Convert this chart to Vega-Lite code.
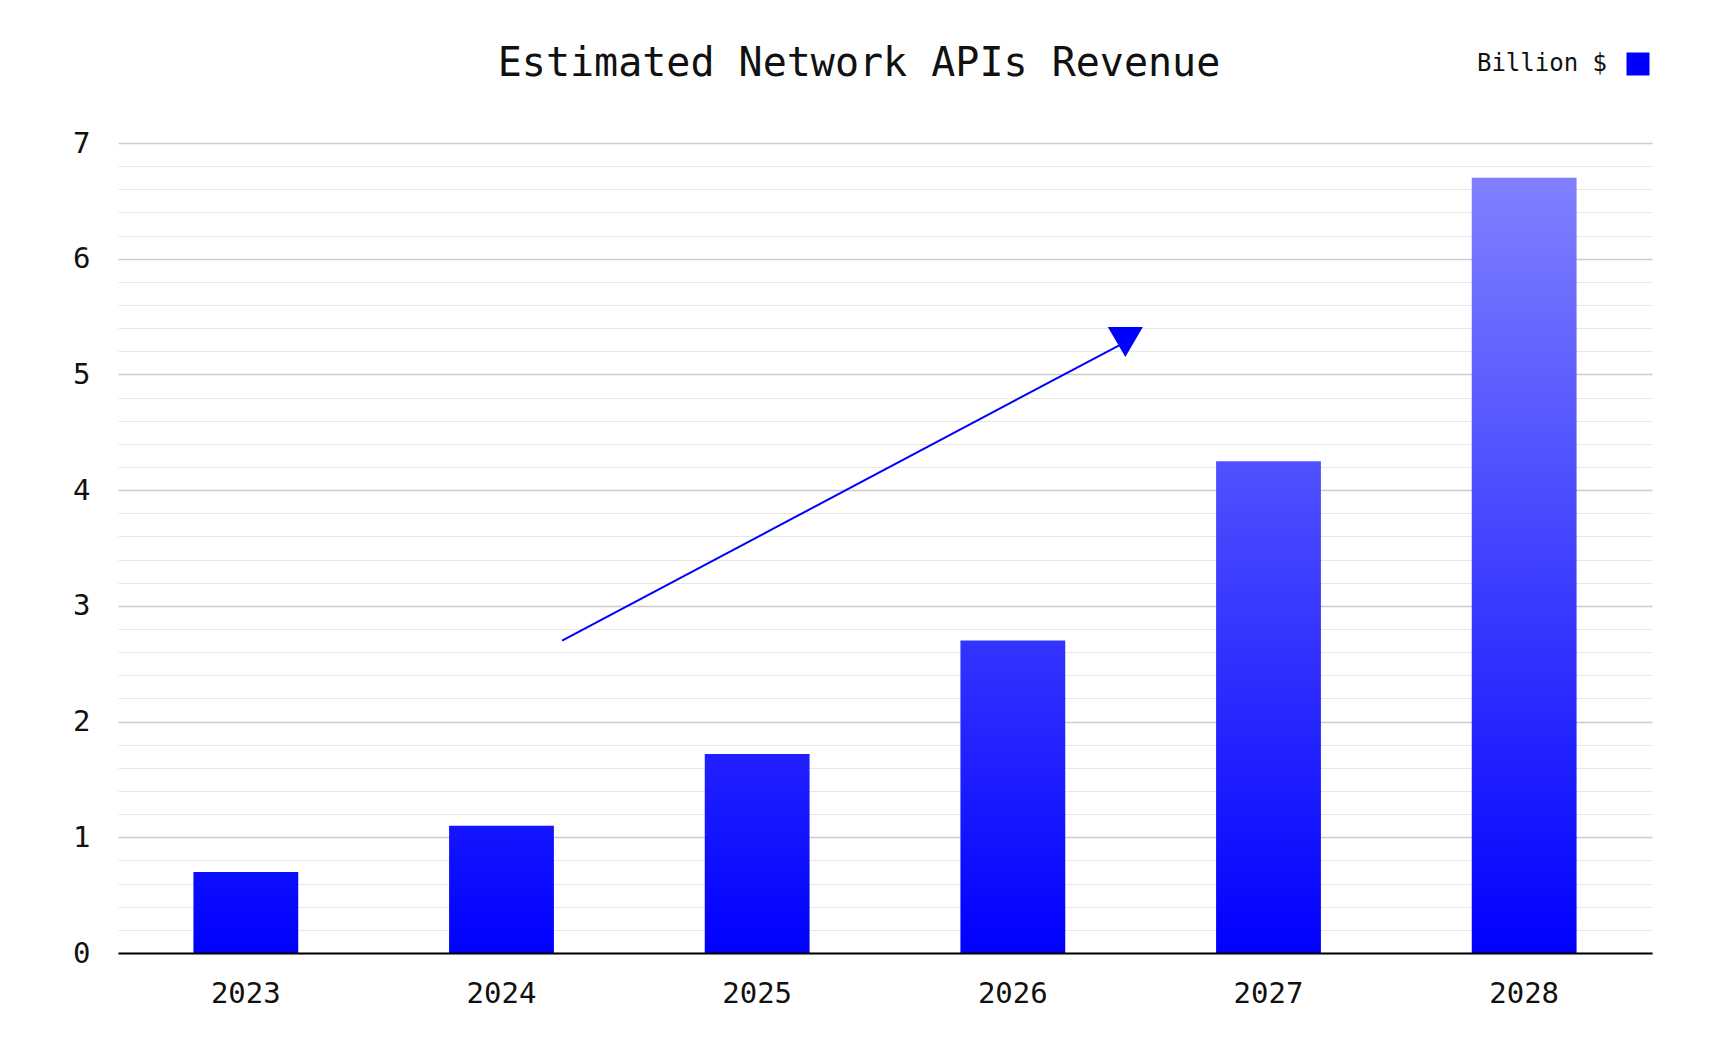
{
  "$schema": "https://vega.github.io/schema/vega-lite/v6.json",
  "width": 1534,
  "height": 810,
  "autosize": {"type": "none"},
  "padding": {"left": 118, "top": 143, "right": 63, "bottom": 91},
  "background": "white",
  "config": {"view": {"stroke": null}, "font": "DejaVu Sans Mono"},
  "title": {
    "text": "Estimated Network APIs Revenue",
    "font": "DejaVu Sans Mono",
    "fontSize": 40,
    "fontWeight": "normal",
    "color": "#111111",
    "anchor": "middle",
    "frame": "group",
    "baseline": "alphabetic",
    "dx": -26,
    "offset": -64
  },
  "datasets": {
    "revenue": [
      {"year": "2023", "value": 0.7},
      {"year": "2024", "value": 1.1},
      {"year": "2025", "value": 1.72},
      {"year": "2026", "value": 2.7},
      {"year": "2027", "value": 4.25},
      {"year": "2028", "value": 6.7}
    ],
    "trend": [
      {"px": 1.737, "py": 2.7},
      {"px": 3.94, "py": 5.28}
    ],
    "head": [
      {"px": 3.94, "py": 5.28, "series": "Billion $"}
    ]
  },
  "layer": [
    {
      "data": {"name": "revenue"},
      "encoding": {
        "x": {
          "field": "year",
          "type": "ordinal",
          "scale": {"domain": ["2023", "2024", "2025", "2026", "2027", "2028"], "paddingInner": 0.59, "paddingOuter": 0.295},
          "axis": {
            "title": null,
            "domain": true,
            "domainColor": "#000000",
            "domainWidth": 2,
            "ticks": false,
            "grid": false,
            "labelAngle": 0,
            "labelFont": "DejaVu Sans Mono",
            "labelFontSize": 29,
            "labelColor": "#111111",
            "labelPadding": 26,
            "zindex": 1
          }
        },
        "y": {
          "field": "value",
          "type": "quantitative",
          "scale": {"domain": [0, 7], "nice": false},
          "axis": {
            "orient": "left",
            "title": null,
            "values": [0, 1, 2, 3, 4, 5, 6, 7],
            "grid": true,
            "gridColor": "#cccccc",
            "gridWidth": 1.5,
            "domain": false,
            "ticks": false,
            "labelFont": "DejaVu Sans Mono",
            "labelFontSize": 29,
            "labelColor": "#111111",
            "labelPadding": 28
          }
        }
      },
      "layer": [
        {
          "transform": [{"filter": {"field": "year", "equal": "2023"}}],
          "mark": {"type": "bar", "color": {"gradient": "linear", "x1": 0, "y1": 1, "x2": 0, "y2": 0, "stops": [{"offset": 0, "color": "#0000ff"}, {"offset": 1, "color": "#0d0dff"}]}}
        },
        {
          "transform": [{"filter": {"field": "year", "equal": "2024"}}],
          "mark": {"type": "bar", "color": {"gradient": "linear", "x1": 0, "y1": 1, "x2": 0, "y2": 0, "stops": [{"offset": 0, "color": "#0000ff"}, {"offset": 1, "color": "#1515ff"}]}}
        },
        {
          "transform": [{"filter": {"field": "year", "equal": "2025"}}],
          "mark": {"type": "bar", "color": {"gradient": "linear", "x1": 0, "y1": 1, "x2": 0, "y2": 0, "stops": [{"offset": 0, "color": "#0000ff"}, {"offset": 1, "color": "#2121ff"}]}}
        },
        {
          "transform": [{"filter": {"field": "year", "equal": "2026"}}],
          "mark": {"type": "bar", "color": {"gradient": "linear", "x1": 0, "y1": 1, "x2": 0, "y2": 0, "stops": [{"offset": 0, "color": "#0000ff"}, {"offset": 1, "color": "#3434ff"}]}}
        },
        {
          "transform": [{"filter": {"field": "year", "equal": "2027"}}],
          "mark": {"type": "bar", "color": {"gradient": "linear", "x1": 0, "y1": 1, "x2": 0, "y2": 0, "stops": [{"offset": 0, "color": "#0000ff"}, {"offset": 1, "color": "#5151ff"}]}}
        },
        {
          "transform": [{"filter": {"field": "year", "equal": "2028"}}],
          "mark": {"type": "bar", "color": {"gradient": "linear", "x1": 0, "y1": 1, "x2": 0, "y2": 0, "stops": [{"offset": 0, "color": "#0000ff"}, {"offset": 1, "color": "#8080ff"}]}}
        }
      ]
    },
    {
      "data": {"name": "trend"},
      "mark": {"type": "line", "color": "#0000ff", "strokeWidth": 2},
      "encoding": {
        "x": {"field": "px", "type": "quantitative", "scale": {"domain": [0, 6], "nice": false, "zero": false}, "axis": null},
        "y": {
          "field": "py",
          "type": "quantitative",
          "scale": {"domain": [0, 7], "nice": false},
          "axis": {
            "orient": "left",
            "title": null,
            "values": [0.2, 0.4, 0.6, 0.8, 1.2, 1.4, 1.6, 1.8, 2.2, 2.4, 2.6, 2.8, 3.2, 3.4, 3.6, 3.8, 4.2, 4.4, 4.6, 4.8, 5.2, 5.4, 5.6, 5.8, 6.2, 6.4, 6.6, 6.8],
            "grid": true,
            "gridColor": "#e6e6e6",
            "gridWidth": 1,
            "labels": false,
            "ticks": false,
            "domain": false
          }
        }
      }
    },
    {
      "data": {"name": "head"},
      "mark": {"type": "point", "shape": "M-1,-0.86L1,-0.86L0,0.86Z", "size": 1225, "filled": true, "opacity": 1, "strokeWidth": 0},
      "encoding": {
        "x": {"field": "px", "type": "quantitative", "scale": {"domain": [0, 6], "nice": false, "zero": false}, "axis": null},
        "y": {"field": "py", "type": "quantitative", "scale": {"domain": [0, 7], "nice": false}, "axis": null},
        "color": {
          "field": "series",
          "type": "nominal",
          "scale": {"range": ["#0000ff"]},
          "legend": {
            "orient": "none",
            "legendX": 1508,
            "legendY": -91,
            "title": null,
            "padding": 0,
            "symbolType": "square",
            "symbolSize": 529,
            "symbolStrokeWidth": 0,
            "symbolOpacity": 1,
            "labelFont": "DejaVu Sans Mono",
            "labelFontSize": 24,
            "labelColor": "#111111",
            "labelAlign": "right",
            "labelOffset": -43
          }
        }
      }
    }
  ],
  "resolve": {"scale": {"x": "independent"}, "axis": {"x": "independent", "y": "independent"}}
}
